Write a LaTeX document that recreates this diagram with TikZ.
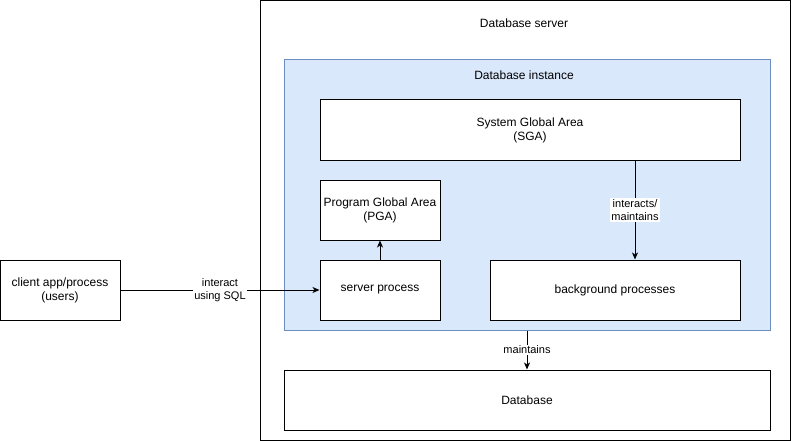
\documentclass[tikz,border=0pt]{standalone}
\usepackage{fontspec}
\setmainfont{Liberation Sans}
\usetikzlibrary{arrows.meta}
\definecolor{instfill}{HTML}{DAE8FC}
\definecolor{instdraw}{HTML}{6C8EBF}
\begin{document}
\begin{tikzpicture}[x=1pt,y=-1pt,
  box/.style={draw=black,fill=white,line width=1pt,inner sep=0pt,align=center,font=\fontsize{12}{14}\selectfont},
  lbl/.style={fill=white,inner sep=1pt,align=center,font=\fontsize{11}{13}\selectfont},
  arr/.style={line width=1pt,-{Stealth[length=7pt,width=6pt,inset=2pt]}},
  txt/.style={inner sep=0pt,font=\fontsize{12}{14}\selectfont}]
\useasboundingbox (0,0) rectangle (791,441);
\node[box,minimum width=530pt,minimum height=439pt] (server) at (525,220.5) {};
\node[txt] (servertxt) at (524,23) {Database server};
\node[draw=instdraw,fill=instfill,line width=1pt,minimum width=486pt,minimum height=270pt,inner sep=0pt] (inst) at (527,195) {};
\node[txt] (insttxt) at (524,75) {Database instance};
\node[box,minimum width=420pt,minimum height=60pt] (sga) at (530,130) {System Global Area\\(SGA)};
\node[box,minimum width=120pt,minimum height=60pt] (pga) at (380,210) {Program Global Area\\(PGA)};
\node[box,minimum width=120pt,minimum height=60pt] (sp) at (380,290) {server process};
\node[box,minimum width=250pt,minimum height=60pt] (bg) at (615,290) {background processes};
\node[box,minimum width=486pt,minimum height=60pt] (db) at (527,400) {Database};
\node[box,minimum width=120pt,minimum height=60pt] (client) at (60,290) {client app/process\\(users)};
\draw[arr] (client) -- node[lbl,pos=0.5] {interact\\using SQL} (sp);
\draw[arr] (sp) -- (pga);
\draw[arr] (sga.south -| 635,0) -- node[lbl] {interacts/\\maintains} (bg.north -| 635,0);
\draw[arr] (inst.south) -- node[lbl] {maintains} (db.north);
\end{tikzpicture}
\end{document}
